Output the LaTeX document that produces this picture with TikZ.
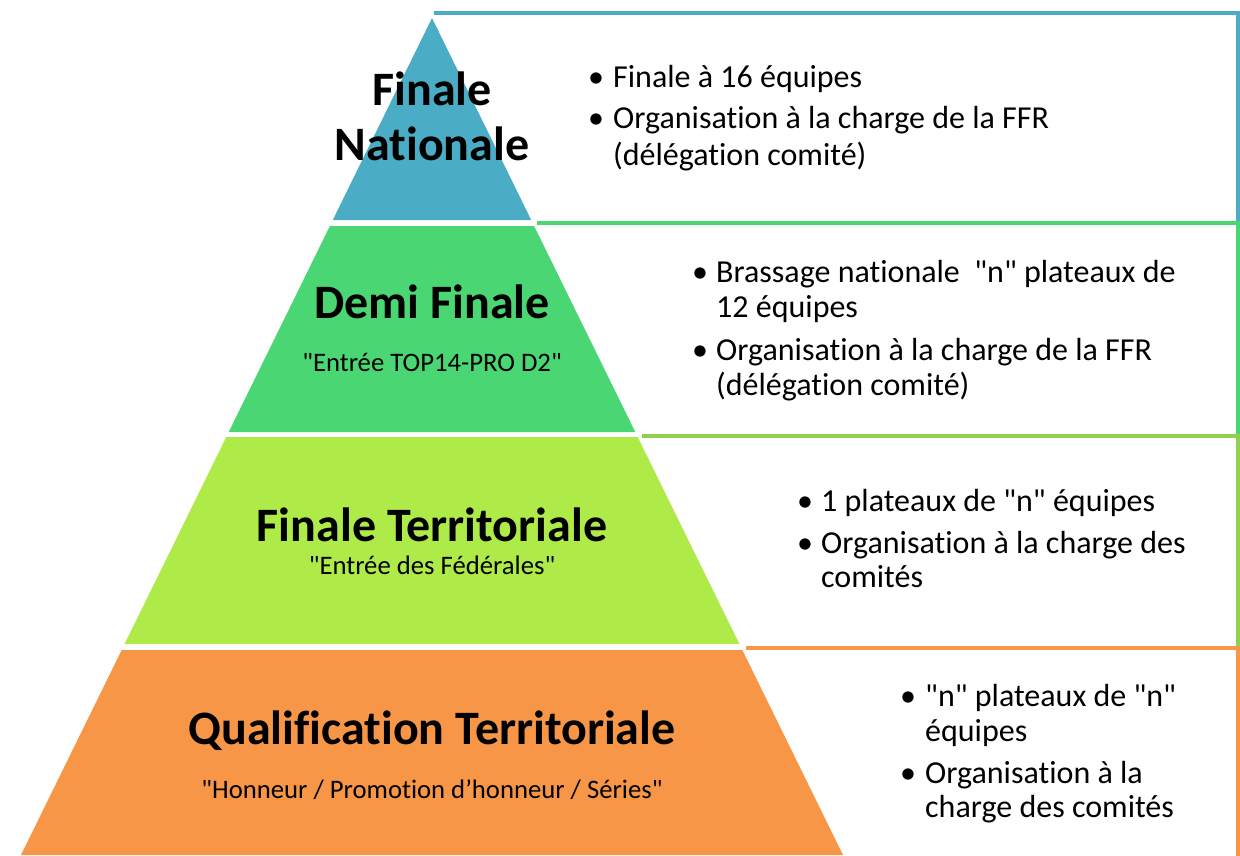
\documentclass[tikz,border=0pt]{standalone}
\usepackage{fontspec}
\newfontfamily\cfont{Carlito}[Ligatures=NoCommon]
\definecolor{cblue}{HTML}{4BACC6}
\definecolor{cgreen}{HTML}{4AD673}
\definecolor{clime}{HTML}{AEEA48}
\definecolor{corange}{HTML}{F79646}
\definecolor{climeline}{HTML}{92D050}
\tikzset{
  tiertitle/.style={font=\cfont\bfseries\fontsize{48}{56}\selectfont, anchor=base, inner sep=0pt},
  tiersub/.style={font=\cfont\fontsize{26.7}{32}\selectfont, anchor=base, inner sep=0pt},
  btxt/.style={font=\cfont\fontsize{32}{38}\selectfont, anchor=base west, inner sep=0pt},
  bdot/.style={font=\cfont\fontsize{32}{38}\selectfont, anchor=base, inner sep=0pt},
  boxline/.style={line width=3.5pt, line cap=rect}
}
\begin{document}
\begin{tikzpicture}[x=1pt,y=-1pt]
\useasboundingbox (0,0) rectangle (1240,855);
\fill[white] (0,0) rectangle (1240,855);
% pyramid tiers
\fill[cblue] (432,18) -- (531.2,220) -- (332.8,220) -- cycle;
\fill[cgreen] (329.9,226) -- (534.1,226) -- (635.3,432) -- (228.7,432) -- cycle;
\fill[clime] (226.3,437) -- (637.7,437) -- (739.4,644) -- (124.6,644) -- cycle;
\fill[corange] (121.7,650) -- (742.3,650) -- (843,855) -- (21,855) -- cycle;
% boxes
\draw[boxline, cblue] (436,13) -- (1238,13) -- (1238,221);
\draw[boxline, cgreen] (539,223) -- (1238,223) -- (1238,434);
\draw[boxline, climeline] (644,436) -- (1238,436) -- (1238,646);
\draw[boxline, corange] (748,648) -- (1238,648) -- (1238,855);
% tier texts
\node[tiertitle] (t1a) at (432,105) {Finale};
\node[tiertitle] (t1b) at (432,160) {Nationale};
\node[tiertitle] (t2) at (432,318) {Demi Finale};
\node[tiersub] (s2) at (432,371) {"Entrée TOP14-PRO D2"};
\node[tiertitle] (t3) at (432,541) {Finale Territoriale};
\node[tiersub] (s3) at (432,574) {"Entrée des Fédérales"};
\node[tiertitle] (t4) at (432,744) {Qualification Territoriale};
\node[tiersub] (s4) at (432,798) {"Honneur / Promotion d’honneur / Séries"};
% box 1
\node[bdot] (b1a) at (596,87) {•};
\node[btxt] (l1a) at (613,87) {Finale à 16 équipes};
\node[bdot] (b1b) at (596,128) {•};
\node[btxt] (l1b) at (613,128) {Organisation à la charge de la FFR};
\node[btxt] (l1c) at (613,165) {(délégation comité)};
% box 2
\node[bdot] (b2a) at (700,282) {•};
\node[btxt] (l2a) at (716,282) {Brassage nationale \ "n" plateaux de};
\node[btxt] (l2b) at (716,317) {12 équipes};
\node[bdot] (b2b) at (700,360) {•};
\node[btxt] (l2c) at (716,360) {Organisation à la charge de la FFR};
\node[btxt] (l2d) at (716,395) {(délégation comité)};
% box 3
\node[bdot] (b3a) at (805,511) {•};
\node[btxt] (l3a) at (821,511) {1 plateaux de "n" équipes};
\node[bdot] (b3b) at (805,553) {•};
\node[btxt] (l3b) at (821,553) {Organisation à la charge des};
\node[btxt] (l3c) at (821,587) {comités};
% box 4
\node[bdot] (b4a) at (908,706) {•};
\node[btxt] (l4a) at (925,706) {"n" plateaux de "n"};
\node[btxt] (l4b) at (925,741) {équipes};
\node[bdot] (b4b) at (908,783) {•};
\node[btxt] (l4c) at (925,783) {Organisation à la};
\node[btxt] (l4d) at (925,817) {charge des comités};
\end{tikzpicture}
\end{document}
